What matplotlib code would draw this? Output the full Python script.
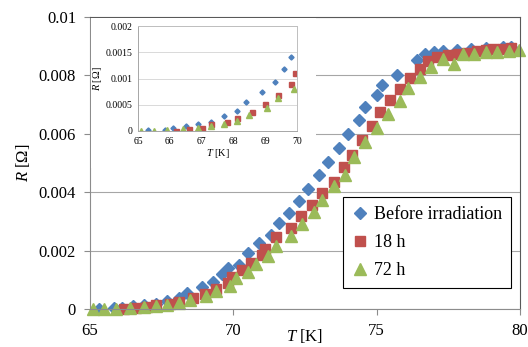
import matplotlib
matplotlib.use('Agg')
import matplotlib.pyplot as plt
from matplotlib.patches import Rectangle

plt.rcParams['font.family'] = ['Liberation Serif', 'DejaVu Serif']
plt.rcParams['mathtext.fontset'] = 'custom'
plt.rcParams['mathtext.rm'] = 'Liberation Serif'
plt.rcParams['mathtext.it'] = 'Liberation Serif:italic'

# before irradiation
t_before = [65.3, 65.85, 66.1, 66.5, 66.9, 67.3, 67.7, 68.1, 68.4, 68.9, 69.3, 69.6, 69.8,
            70.2, 70.5, 70.9, 71.3, 71.6, 71.95, 72.3, 72.6, 73.0, 73.3, 73.7, 74.0, 74.4,
            74.6, 75.0, 75.2, 75.7, 76.4, 76.7, 77.0, 77.3, 77.8, 78.3, 78.8, 79.4, 79.7]
r_before = [0.00001, 0.00002, 0.00005, 0.0001, 0.00013, 0.00017, 0.00029, 0.00038, 0.00055,
            0.00075, 0.00094, 0.00119, 0.00141, 0.0015, 0.00192, 0.00226, 0.00253, 0.00295,
            0.0033, 0.00369, 0.00412, 0.0046, 0.00502, 0.00553, 0.00598, 0.00647, 0.00691,
            0.00733, 0.00768, 0.00803, 0.00852, 0.00873, 0.00879, 0.00885, 0.00887, 0.0089,
            0.00895, 0.00898, 0.00898]

# 18 h
t_18h = [66.2, 66.6, 67.0, 67.3, 67.8, 68.1, 68.6, 69.0, 69.4, 69.8, 69.95, 70.3, 70.6,
         71.0, 71.1, 71.5, 72.0, 72.35, 72.75, 73.1, 73.5, 73.85, 74.15, 74.5, 74.85, 75.1,
         75.45, 75.8, 76.15, 76.5, 76.8, 77.1, 77.5, 77.85, 78.15, 78.5, 78.8, 79.05, 79.4, 79.7]
r_18h = [0.0, 0.00003, 0.00006, 0.00013, 0.00017, 0.00025, 0.00036, 0.00052, 0.00068,
         0.0009, 0.0011, 0.00134, 0.00156, 0.00185, 0.00207, 0.00245, 0.00279, 0.00317,
         0.00355, 0.00396, 0.00436, 0.00487, 0.00527, 0.0058, 0.00627, 0.00673, 0.00717,
         0.00754, 0.0079, 0.00823, 0.00849, 0.00864, 0.0087, 0.00873, 0.00878, 0.00884,
         0.00887, 0.00889, 0.00892, 0.00895]

# 72 h
t_72h = [65.1, 65.5, 65.9, 66.4, 66.9, 67.3, 67.7, 68.1, 68.5, 69.05, 69.4, 69.9, 70.1,
         70.5, 70.8, 71.2, 71.5, 72.0, 72.4, 72.8, 73.1, 73.5, 73.9, 74.2, 74.6, 75.0, 75.4,
         75.8, 76.1, 76.5, 76.9, 77.3, 77.7, 78.0, 78.4, 78.8, 79.2, 79.6, 79.95]
r_72h = [0.0, 0.0, 0.00001, 0.00004, 0.00006, 0.0001, 0.00013, 0.0002, 0.0003, 0.00044,
         0.00063, 0.0008, 0.00105, 0.00128, 0.00155, 0.00183, 0.00215, 0.00249, 0.00291,
         0.00332, 0.00373, 0.0042, 0.0046, 0.0052, 0.00573, 0.00619, 0.00669, 0.00713,
         0.00758, 0.00795, 0.00828, 0.00856, 0.00839, 0.00873, 0.00873, 0.00879, 0.00881,
         0.00885, 0.00887]

labels = ['Before irradiation', '18 h', '72 h']
x_ticks = [65, 70, 75, 80]
y_ticks = [0, 0.002, 0.004, 0.006, 0.008, 0.01]
y_ticklabels = ['0', '0.002', '0.004', '0.006', '0.008', '0.01']
inset_x_ticks = [65, 66, 67, 68, 69, 70]
inset_y_ticks = [0, 0.0005, 0.001, 0.0015, 0.002]
inset_y_ticklabels = ['0', '0.0005', '0.001', '0.0015', '0.002']

series = [(t_before, r_before, 'D', '#4F81BD', 6.2, 2.6),
          (t_18h, r_18h, 's', '#C0504D', 7.3, 3.6),
          (t_72h, r_72h, '^', '#9BBB59', 8.2, 3.8)]

fig = plt.figure(figsize=(5.28, 3.47), dpi=100)
ax = fig.add_axes([90 / 528, 38 / 347, 430 / 528, 292 / 347])
ax.set_zorder(0)

for (t, r, m, c, ms, _), lab in zip(series, labels):
    ax.plot(t, r, linestyle='none', marker=m, color=c, markersize=ms,
            markeredgecolor=c, label=lab, clip_on=False)

ax.set_xlim(65, 80)
ax.set_ylim(0, 0.01)
ax.set_xticks(x_ticks)
ax.set_yticks(y_ticks)
ax.set_yticklabels(y_ticklabels)
ax.tick_params(labelsize=12, length=4, color='#8c8c8c', pad=6)
ax.grid(axis='y', color='#a6a6a6', linewidth=0.8)
ax.set_axisbelow(True)
for s in ['left', 'bottom']:
    ax.spines[s].set_color('#8c8c8c')
for s in ['top', 'right']:
    ax.spines[s].set_color('#595959')
ax.set_xlabel('$T$ [K]', fontsize=12)
ax.xaxis.set_label_coords(0.5, -0.062)
ax.set_ylabel('$R$ [\u03a9]', fontsize=12, labelpad=5)

leg = ax.legend(loc='lower left', bbox_to_anchor=(0.588, 0.072), fontsize=13,
                frameon=True, fancybox=False, edgecolor='black', framealpha=1,
                handlelength=0.9, handletextpad=0.3, labelspacing=0.6,
                borderpad=0.5, borderaxespad=0)
leg.get_frame().set_linewidth(0.8)

# white background for the inset chart
fig.patches.append(Rectangle((91 / 528, (347 - 168) / 347), 225 / 528, 150 / 347,
                             transform=fig.transFigure, facecolor='white',
                             edgecolor='none', zorder=1))

ins = fig.add_axes([138 / 528, (347 - 131) / 347, 159 / 528, 105 / 347])
ins.set_zorder(2)
for t, r, m, c, _, ms in series:
    tt = [a for a in t if a <= 70]
    rr = [b for a, b in zip(t, r) if a <= 70]
    ins.plot(tt, rr, linestyle='none', marker=m, color=c, markersize=ms,
             markeredgecolor=c)
ins.set_xlim(65, 70)
ins.set_ylim(0, 0.002)
ins.set_xticks(inset_x_ticks)
ins.set_yticks(inset_y_ticks)
ins.set_yticklabels(inset_y_ticklabels)
ins.tick_params(labelsize=7, length=0, pad=4)
ins.grid(axis='y', color='#d9d9d9', linewidth=0.7)
ins.set_axisbelow(True)
for s in ins.spines.values():
    s.set_color('#bfbfbf')
    s.set_linewidth(0.7)
ins.spines['left'].set_color('#a6a6a6')
ins.spines['bottom'].set_color('#a6a6a6')
ins.set_xlabel('$T$ [K]', fontsize=7.5, labelpad=1)
ins.set_ylabel('$R$ [\u03a9]', fontsize=7.5, labelpad=1)

fig.savefig('out.png', dpi=100)
